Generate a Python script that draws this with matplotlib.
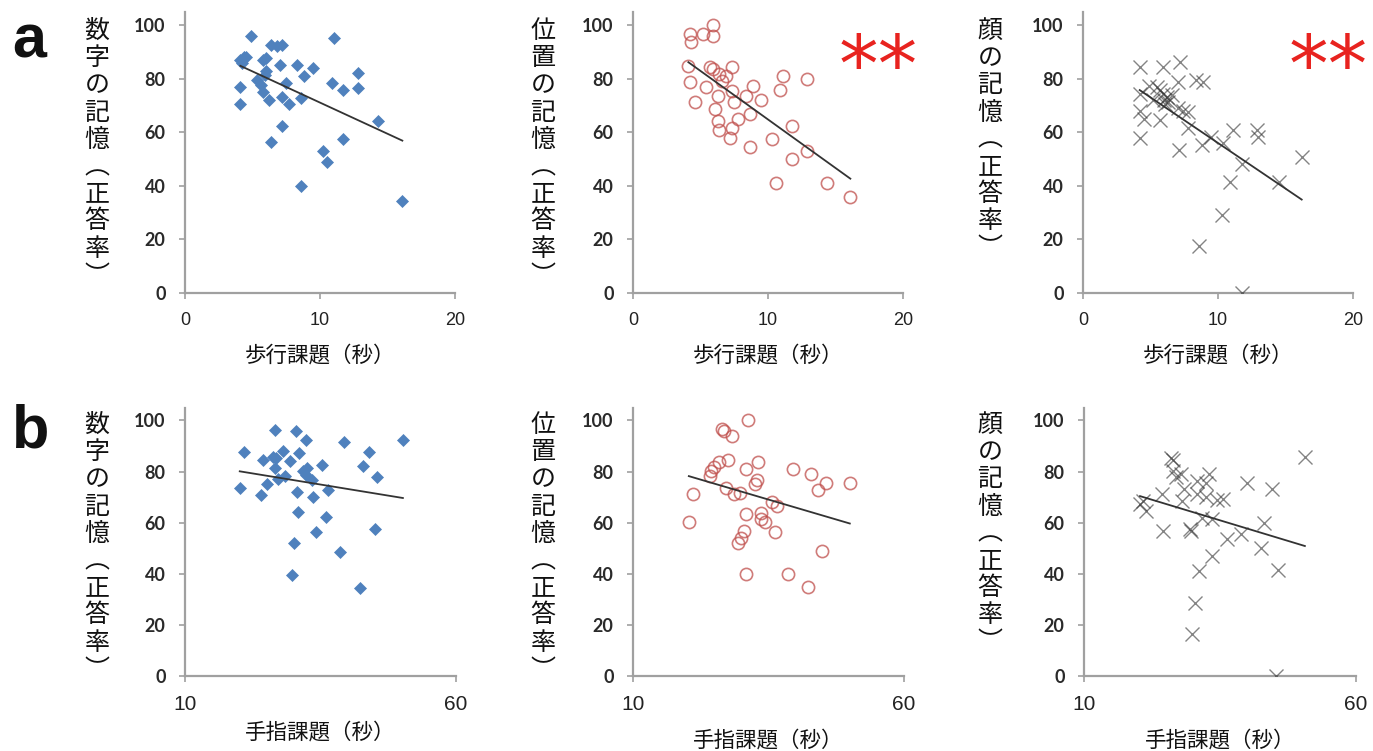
import matplotlib
matplotlib.use('Agg')
import matplotlib.pyplot as plt
import numpy as np

W, H = 1373, 751
fig = plt.figure(figsize=(W / 100, H / 100), dpi=100)

JP = ['Noto Sans CJK JP', 'DejaVu Sans']

# ---------------- data ----------------
# row a: walking task time (s) vs memory score (% correct)
walk_x_digit = [4.9, 11.0, 4.1, 4.4, 4.2, 4.5, 5.8, 6.0, 6.4, 6.8, 7.2, 7.0, 8.3, 9.5, 8.8,
                6.0, 5.9, 5.3, 5.6, 7.5, 10.9, 12.8, 11.7, 12.8, 4.1, 4.1, 5.8, 6.2, 7.2,
                7.7, 8.6, 14.3, 7.2, 6.4, 11.7, 10.2, 10.5, 8.6, 16.1]
walk_y_digit = [96, 95, 87, 88, 86, 88, 87, 87.6, 92.5, 92, 92.5, 85, 85, 83.9, 81,
                83, 81.4, 79.5, 77.6, 78.3, 78.3, 82, 75.8, 76.4, 77, 70.6, 75, 72, 73,
                70.6, 72.7, 64, 62.4, 56.5, 57.4, 52.8, 49, 39.8, 34.4]

walk_x_place = [5.9, 4.2, 5.15, 5.9, 4.3, 4.1, 5.7, 5.9, 6.4, 6.9, 7.3, 4.2, 5.4, 6.6,
                7.3, 6.3, 4.6, 7.5, 8.4, 8.9, 9.5, 11.1, 10.9, 12.9, 6.1, 8.7, 6.3, 7.8,
                6.4, 7.35, 7.2, 10.3, 11.8, 8.7, 12.9, 11.8, 10.6, 14.4, 16.1]
walk_y_place = [100, 96.5, 96.5, 96, 93.8, 84.8, 84.5, 83.5, 81.7, 81, 84.2, 78.8, 77, 79,
                75.4, 73.4, 71.4, 71.4, 73.6, 77.3, 72, 81, 75.8, 79.8, 68.6, 66.7, 64, 64.8,
                60.8, 61.5, 58, 57.6, 62.5, 54.6, 53, 50, 41, 41, 36]

walk_x_face = [4.2, 5.9, 7.2, 4.9, 5.5, 5.7, 5.9, 6.2, 6.3, 6.1, 4.2, 7.0, 8.4, 8.9, 4.2,
               4.5, 5.7, 7.4, 7.8, 7.8, 9.5, 11.1, 12.9, 13.0, 4.2, 7.1, 8.8, 10.4, 11.8,
               16.2, 10.9, 14.5, 10.3, 8.6, 11.8, 6.0, 6.6, 7.0, 5.2]
walk_y_face = [84.4, 84.4, 86.2, 77.3, 76.7, 75.7, 74.4, 73, 71.3, 70.7, 74.4, 78.8, 79.4,
               78.8, 68, 65, 64.5, 68, 67.6, 61.4, 58.3, 61, 61, 58.3, 57.7, 53.3, 55.2,
               55.8, 48.1, 50.9, 41.6, 41.6, 29, 17.4, 0, 72, 74, 69, 72]

# row b: finger task time (s) vs memory score (% correct)
finger_x_digit = [26.6, 30.5, 32.3, 39.3, 50.2, 20.9, 44.0, 24.3, 26.2, 26.8, 28.0, 29.4,
                  31.1, 35.3, 42.8, 26.6, 31.8, 32.6, 32.4, 28.5, 27.2, 45.4, 33.4, 20.1,
                  25.2, 24.0, 30.6, 33.6, 36.3, 30.8, 36.0, 34.2, 45.1, 30.1, 38.6, 29.7, 42.3]
finger_y_digit = [96.3, 95.7, 92.4, 91.5, 92.4, 87.6, 87.6, 84.6, 85.9, 85.2, 87.9, 84.3,
                  87.2, 82.6, 82, 81.3, 80.4, 81.3, 78.7, 78.3, 77, 78, 76.8, 73.5,
                  75.2, 70.9, 72.2, 70.2, 72.8, 64.1, 62.1, 56.3, 57.6, 52.2, 48.7, 39.6, 34.3]

finger_x_place = [31.2, 26.5, 26.7, 28.3, 24.3, 24.9, 25.8, 27.5, 30.8, 33.1, 39.6, 42.8,
                  32.5, 32.8, 45.6, 44.2, 50.0, 24.2, 21.1, 27.1, 28.6, 29.7, 35.6, 36.5,
                  30.8, 33.7, 33.7, 34.3, 20.3, 36.2, 30.4, 30.0, 29.4, 44.9, 30.9, 38.6, 42.3]
finger_y_place = [100, 96.5, 96, 93.9, 80.3, 81.9, 83.8, 84.7, 81, 83.7, 81.1, 79.1,
                  75.3, 76.7, 75.6, 72.6, 75.4, 78.2, 71.3, 73.4, 71.3, 71.7, 68.2, 66.5,
                  63.5, 63.9, 61.3, 60.4, 60.4, 56.5, 56.7, 54.2, 52, 48.9, 40, 40, 34.9]

finger_x_face = [26.0, 50.6, 26.4, 27.0, 32.9, 30.8, 32.5, 39.9, 44.5, 24.3, 28.3, 20.9,
                 20.3, 21.4, 28.0, 30.7, 32.5, 35.6, 34.4, 31.6, 33.5, 43.1, 24.5, 29.7,
                 36.2, 38.9, 42.5, 33.6, 31.2, 45.7, 30.4, 29.9, 45.3, 26.3, 27.8, 29.5]
finger_y_face = [85.2, 85.7, 80.3, 77.7, 79.2, 76.4, 75.7, 75.7, 73.1, 71.2, 73.1, 68.6,
                 67.5, 64.7, 68.6, 71.2, 69.9, 69.2, 68.8, 61.8, 61.4, 59.7, 56.9, 56.9,
                 53.6, 55.6, 50, 47.1, 41, 41.3, 28.7, 16.6, 0, 84.5, 79, 57.5]

ylabels = ['数字の記憶（正答率）', '位置の記憶（正答率）', '顔の記憶（正答率）']
xlabel_walk = '歩行課題（秒）'
xlabel_finger = '手指課題（秒）'
walk_ticks = [0, 10, 20]
finger_ticks = [10, 60]
y_ticks = [0, 20, 40, 60, 80, 100]
signif = ['', '**', '**']

# ---------------- layout ----------------
def rect(x0, x1, ybot, ytop):
    return [x0 / W, 1 - ybot / H, (x1 - x0) / W, (ybot - ytop) / H]

row_a_x = [(185, 455), (633, 903), (1083, 1353)]
row_b_x = [(185, 456), (633, 904), (1084, 1356)]
ylab_x = [97, 543, 990]

styles = [
    dict(marker='D', ms=6.6, mfc='#4F81BD', mec='#4F81BD', mew=0.5, alpha=1.0),
    dict(marker='o', ms=8.8, mfc='none', mec='#C0504D', mew=1.2, alpha=0.75),
    dict(marker='x', ms=10.5, mfc='none', mec='#333333', mew=1.0, alpha=0.6),
]

rows = [
    dict(xs=[walk_x_digit, walk_x_place, walk_x_face],
         ys=[walk_y_digit, walk_y_place, walk_y_face],
         pos=row_a_x, ybot=293, ytop=11.6, xlim=(0, 20), ticks=walk_ticks,
         xlabel=xlabel_walk, xl_top=[344, 344, 344], ticksize=13, ylab_top=18,
         letter='a', letter_y=14, sig=True),
    dict(xs=[finger_x_digit, finger_x_place, finger_x_face],
         ys=[finger_y_digit, finger_y_place, finger_y_face],
         pos=row_b_x, ybot=676, ytop=407.7, xlim=(10, 60), ticks=finger_ticks,
         xlabel=xlabel_finger, xl_top=[721, 729, 729], ticksize=15, ylab_top=412,
         letter='b', letter_y=404, sig=False),
]

for r in rows:
    for i in range(3):
        x0, x1 = r['pos'][i]
        ax = fig.add_axes(rect(x0, x1, r['ybot'], r['ytop']))
        x = np.array(r['xs'][i], dtype=float)
        y = np.array(r['ys'][i], dtype=float)
        ax.plot(x, y, linestyle='none', **styles[i], zorder=3)
        coef = np.polyfit(x, y, 1)
        xx = np.array([x.min(), x.max()])
        ax.plot(xx, np.polyval(coef, xx), color='#333333', lw=1.3, zorder=4)

        ax.set_xlim(*r['xlim'])
        ax.set_ylim(0, 105)
        ax.set_xticks(r['ticks'])
        ax.set_yticks(y_ticks)
        for s in ['top', 'right']:
            ax.spines[s].set_visible(False)
        for s in ['left', 'bottom']:
            ax.spines[s].set_color('#a0a0a0')
            ax.spines[s].set_linewidth(1.6)
        ax.tick_params(axis='both', direction='out', length=4, width=1.2, color='#a0a0a0')
        ax.tick_params(axis='y', pad=10)
        ax.tick_params(axis='x', pad=10)
        for lab in ax.get_yticklabels():
            lab.set_family(['Lato', 'DejaVu Sans'])
            lab.set_fontweight('bold')
            lab.set_fontsize(13)
            lab.set_color('#2a2a2a')
        for lab in ax.get_xticklabels():
            lab.set_family(['Liberation Sans', 'DejaVu Sans'])
            lab.set_fontsize(r['ticksize'])
            lab.set_color('#222222')
        ax.patch.set_alpha(0)

        # x label
        xc = (x0 + x1) / 2
        fig.text(xc / W, 1 - r['xl_top'][i] / H, r['xlabel'], ha='center', va='top',
                 fontsize=15.5, family=JP, color='#111111')
        # vertical y label
        vert = ylabels[i].replace('（', '︵').replace('）', '︶')
        fig.text(ylab_x[i] / W, 1 - r['ylab_top'] / H, '\n'.join(vert), ha='center',
                 va='top', fontsize=18, linespacing=1.06, family=JP, color='#111111')
        if r['sig'] and signif[i]:
            fig.text((x1 - 25) / W, 1 - 69 / H, signif[i], ha='center', va='center',
                     fontsize=57, fontweight='normal', color='#E8231F',
                     family=['DejaVu Sans'])

    fig.text(12 / W, 1 - r['letter_y'] / H, r['letter'], ha='left', va='top',
             fontsize=44, fontweight='bold', family=['Liberation Sans', 'DejaVu Sans'],
             color='#111111')

fig.savefig('out.png', dpi=100, facecolor='white')
